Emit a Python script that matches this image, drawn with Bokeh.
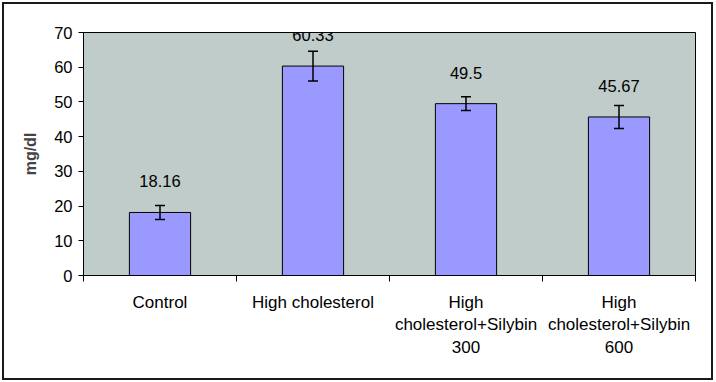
from bokeh.plotting import figure
from bokeh.models import ColumnDataSource, Range1d, FixedTicker, Whisker, TeeHead
from bokeh.core.properties import value
from bokeh.embed import file_html
from bokeh.resources import INLINE

categories = ["Control", "High cholesterol", "High\ncholesterol+Silybin\n300", "High\ncholesterol+Silybin\n600"]
values = [18.16, 60.33, 49.5, 45.67]
errors = [2.0, 4.3, 2.0, 3.3]
value_labels = ["18.16", "60.33", "49.5", "45.67"]
y_ticks = [0, 10, 20, 30, 40, 50, 60, 70]

xs = [i + 0.5 for i in range(len(categories))]
src = ColumnDataSource(dict(
    x=xs, top=values,
    upper=[v + e for v, e in zip(values, errors)],
    lower=[v - e for v, e in zip(values, errors)],
    lab=value_labels,
))

FONT = "Liberation Sans"

p = figure(width=711, height=378, output_backend="svg", toolbar_location=None,
           x_range=Range1d(0, len(categories)), y_range=Range1d(0, 70),
           min_border_left=79, min_border_right=20, min_border_top=28, min_border_bottom=107)
p.styles = {"border": "2px solid #1a1a1a", "box-sizing": "border-box", "margin": "2px"}
p.background_fill_color = "#c0ccca"
p.border_fill_color = "white"
p.outline_line_color = "black"
p.outline_line_width = 1
p.grid.visible = False

p.vbar(x="x", top="top", width=0.4, source=src, fill_color="#9999ff",
       line_color="black", line_width=1)

w = Whisker(base="x", upper="upper", lower="lower", source=src, level="overlay",
            line_color="black", line_width=1.5,
            upper_head=TeeHead(size=10, line_color="black", line_width=1.5),
            lower_head=TeeHead(size=10, line_color="black", line_width=1.5))
p.add_layout(w)

p.text(x="x", y="top", text="lab", source=src, y_offset=-31,
       text_align="center", text_baseline="middle",
       text_font=value(FONT), text_font_size="16.5px", text_color="black")

# y axis
p.yaxis.ticker = FixedTicker(ticks=y_ticks)
p.yaxis.axis_label = "mg/dl"
p.yaxis.axis_label_text_font = FONT
p.yaxis.axis_label_text_font_style = "bold"
p.yaxis.axis_label_text_font_size = "16px"
p.yaxis.axis_label_standoff = 12
p.yaxis.major_label_text_font = FONT
p.yaxis.major_label_text_font_size = "16.5px"
p.yaxis.major_label_text_color = "black"
p.yaxis.major_tick_out = 5
p.yaxis.major_tick_in = 0
p.yaxis.minor_tick_out = 0
p.yaxis.minor_tick_in = 0
p.yaxis.major_tick_line_color = "black"
p.yaxis.axis_line_color = "black"
p.yaxis.major_label_standoff = 6

# x axis: labels at centers, ticks at boundaries
p.xaxis.ticker = FixedTicker(ticks=xs, minor_ticks=list(range(len(categories) + 1)))
p.xaxis.major_label_overrides = {x: c for x, c in zip(xs, categories)}
p.xaxis.major_tick_out = 0
p.xaxis.major_tick_in = 0
p.xaxis.minor_tick_out = 6
p.xaxis.minor_tick_in = 0
p.xaxis.minor_tick_line_color = "black"
p.xaxis.axis_line_color = "black"
p.xaxis.major_label_text_font = FONT
p.xaxis.major_label_text_font_size = "17px"
p.xaxis.major_label_text_color = "black"
p.xaxis.major_label_standoff = 11

open("out.html", "w").write(file_html(p, INLINE))
